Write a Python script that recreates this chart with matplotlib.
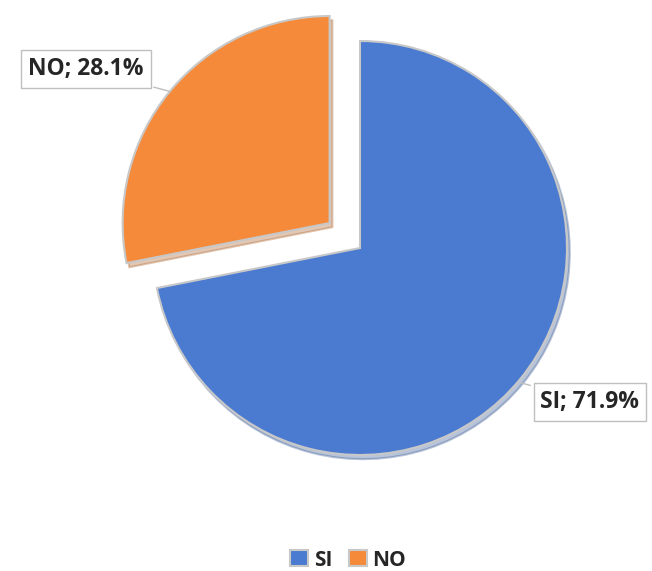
import numpy as np
import matplotlib.pyplot as plt

# data
labels = ['SI', 'NO']
values = [71.9, 28.1]
colors = ['#4a7bd0', '#f58a3a']

W, H = 652, 571

fig = plt.figure(figsize=(W/100, H/100), dpi=100)
ax = fig.add_axes([0, 0, 1, 1])

cx, cy, r = 360, H - 248, 207
# explode in matplotlib is in data units, not a fraction of radius
wedges, _ = ax.pie(values, colors=colors, startangle=90, counterclock=False,
                   explode=[0, 0.19*r], radius=r, center=(cx, cy), frame=True,
                   wedgeprops=dict(edgecolor='#c8c8c8', linewidth=1.5),
                   shadow=dict(ox=2, oy=-3, shade=0.3, alpha=0.35))
ax.set_xlim(0, W)
ax.set_ylim(0, H)
ax.set_aspect('equal')
ax.axis('off')

box = dict(boxstyle='square,pad=0.3', facecolor='white', edgecolor='#bfbfbf', linewidth=1)
ax.annotate('NO; 28.1%', xy=(172, H - 92), xytext=(86, H - 69),
            ha='center', va='center', fontsize=16.5, fontweight='bold',
            family='Open Sans', color='#262626', bbox=box,
            arrowprops=dict(arrowstyle='-', color='#bfbfbf', lw=1))
ax.annotate('SI; 71.9%', xy=(518, H - 382), xytext=(590, H - 402),
            ha='center', va='center', fontsize=16.5, fontweight='bold',
            family='Open Sans', color='#262626', bbox=box,
            arrowprops=dict(arrowstyle='-', color='#bfbfbf', lw=1))

leg = ax.legend(wedges, labels, loc='center', bbox_to_anchor=(348/W, 1 - 560/H),
                ncol=2, frameon=False, handlelength=0.9, handleheight=0.8,
                handletextpad=0.25, columnspacing=0.8,
                prop=dict(family='Open Sans', size=15, weight='bold'))
for t in leg.get_texts():
    t.set_color('#262626')

fig.savefig('out.png', dpi=100)
